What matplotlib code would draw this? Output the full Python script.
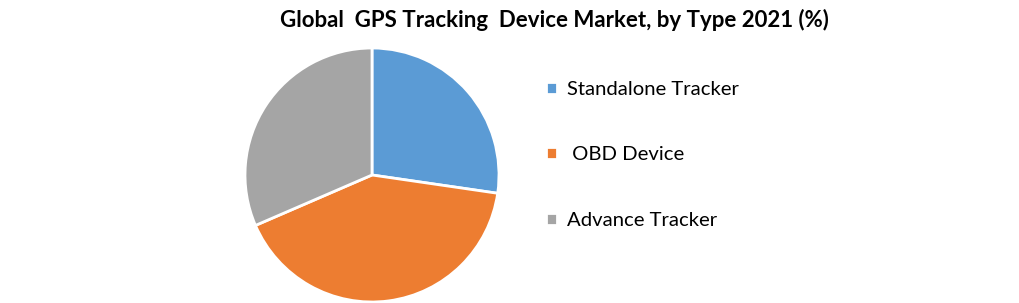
import matplotlib.pyplot as plt

# data (shares in %)
types = ['Standalone Tracker', ' OBD Device', 'Advance Tracker']
shares = [27.3, 41.2, 31.5]
colors = ['#5B9BD5', '#ED7D31', '#A5A5A5']

plt.rcParams['font.family'] = ['Lato', 'DejaVu Sans']

fig = plt.figure(figsize=(10.2, 3.03), dpi=100)
ax = fig.add_axes([245 / 1020, 0 / 303, 254 / 1020, 256 / 303])

wedges, _ = ax.pie(shares, colors=colors, startangle=90, counterclock=False,
                   wedgeprops=dict(edgecolor='white', linewidth=2))
ax.set_xlim(-1.0, 1.0)
ax.set_ylim(-1.0, 1.0)
ax.set_aspect('equal')

fig.text(554 / 1020, 1 - 20 / 303, 'Global  GPS Tracking  Device Market, by Type 2021 (%)',
         ha='center', va='center', fontsize=16, fontweight='bold')

fig.legend(wedges, types, loc='center left', bbox_to_anchor=(528 / 1020, 1 - 155 / 303),
           frameon=False, fontsize=14.6, handlelength=0.55, handleheight=0.55,
           handletextpad=0.45, labelspacing=2.4)

fig.savefig('out.png', dpi=100)
